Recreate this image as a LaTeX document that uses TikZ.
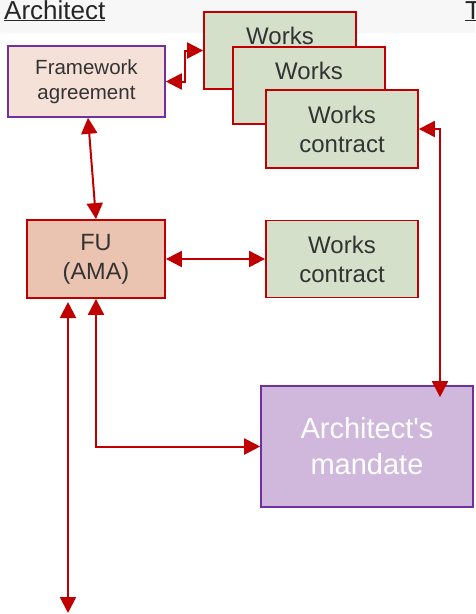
\documentclass[tikz,border=0pt]{standalone}
\usepackage{fontspec}
\setmainfont{Liberation Sans}
\usepackage{xcolor}
\usepackage{tikz}
\usetikzlibrary{arrows.meta, positioning}

\definecolor{arrowred}{HTML}{C00000}
\definecolor{framepurple}{HTML}{7030A0}
\definecolor{worksgreen}{HTML}{D4E0CA}
\definecolor{fwpink}{HTML}{F6E1D9}
\definecolor{fusalmon}{HTML}{EAC3B1}
\definecolor{mandlilac}{HTML}{CFB8DC}
\definecolor{txtgrey}{HTML}{333333}

\begin{document}
\begin{tikzpicture}[x=1pt, y=-1pt,
		worksbox/.style={draw=arrowred, line width=1.8pt, fill=worksgreen, text=txtgrey, align=center, minimum width=152pt, minimum height=77pt, font=\fontsize{24}{29}\selectfont},
		fwbox/.style={draw=framepurple, line width=1.6pt, fill=fwpink, text=txtgrey, align=center, minimum width=157pt, minimum height=71pt, font=\fontsize{20.5}{25}\selectfont},
		fubox/.style={draw=arrowred, line width=1.8pt, fill=fusalmon, text=txtgrey, align=center, minimum width=138pt, minimum height=78pt, font=\fontsize{23.5}{29}\selectfont},
		mandbox/.style={draw=framepurple, line width=1.6pt, fill=mandlilac, text=white, align=center, minimum width=212pt, minimum height=121pt, font=\fontsize{29}{36}\selectfont},
		link/.style={draw=arrowred, line width=2pt, {Triangle[length=16pt, width=16pt]}-{Triangle[length=16pt, width=16pt]}}]
			\useasboundingbox (0,0) rectangle (475,614);
			\fill[black!3] (0,0) rectangle (475,33);
			\node[anchor=base west, text=black!85, font=\fontsize{26}{30}\selectfont, inner sep=0pt] (title) at (4,19) {\underline{Architect}};
			\node[anchor=base west, text=black!85, font=\fontsize{26}{30}\selectfont, inner sep=0pt] (tcut) at (465,19) {\underline{T}};
			
			\node[fwbox] (fw) at (86.5,81.5) {Framework\\agreement};
			\node[worksbox] (wk1) at (280,50.5) {Works\\\phantom{contract}};
			\node[worksbox] (wk2) at (309,85.5) {Works\\\phantom{contract}};
			\node[worksbox, minimum height=78pt] (wk3) at (342,129) {Works\\contract};
			\node[fubox] (fu) at (96,259) {FU\\(AMA)};
			\node[worksbox] (wkc) at (342,259) {Works\\contract};
			\node[mandbox] (mand) at (367,446.5) {Architect\textquotesingle s\\mandate};
			
			\coordinate (freetop) at (68,302);
			\coordinate (freebot) at (68,613);
			
			\draw[link] (fw.east) -| ([xshift=-18pt]wk1.west) -- (wk1.west);
			\draw[link] ([xshift=1.5pt]fw.south) -- (fu.north);
			\draw[link] (fu.east) -- (wkc.west);
			\draw[link] (wk3.east) -| ([xshift=73pt, yshift=-12pt]mand.north);
			\draw[link] (fu.south) |- (mand.west);
			\draw[link] (freetop) -- (freebot);
		\end{tikzpicture}
\end{document}
